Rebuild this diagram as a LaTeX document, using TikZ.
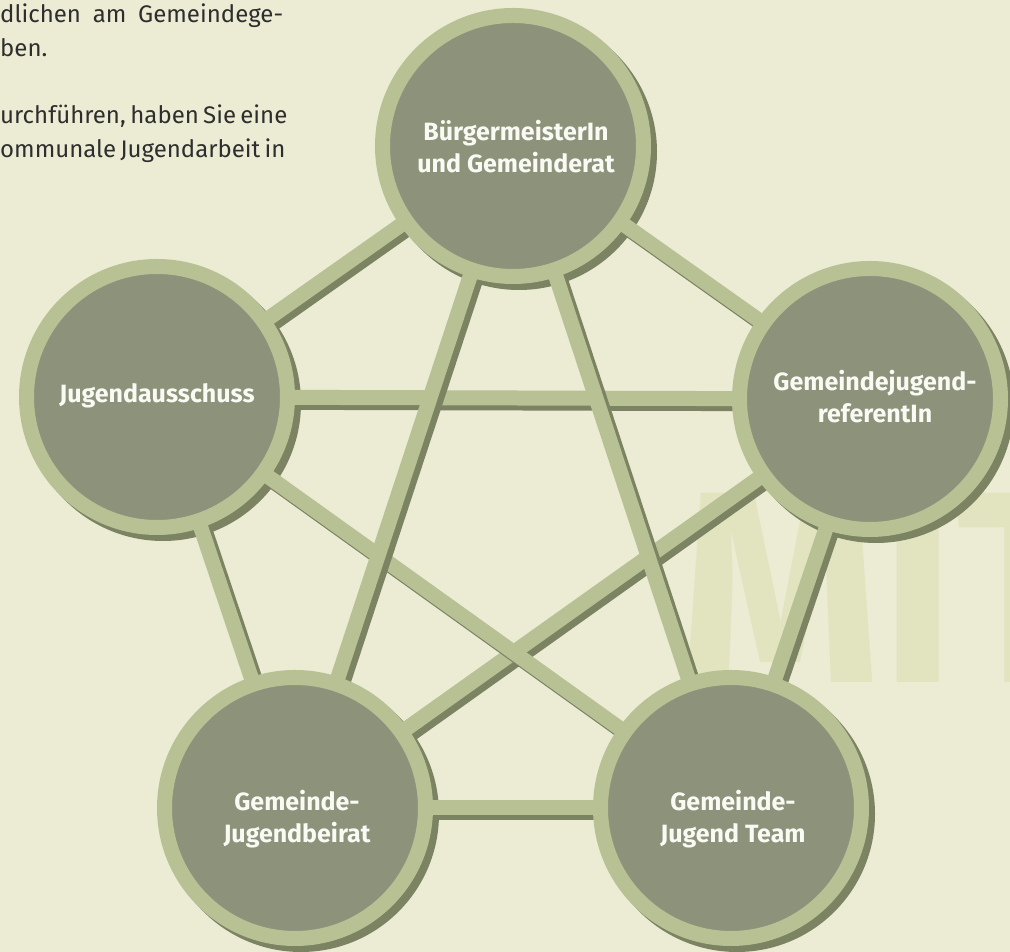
\documentclass[tikz,border=0pt]{standalone}
\usepackage{fontspec}
\setmainfont{Fira Sans}
\definecolor{bgc}{RGB}{236,235,212}
\definecolor{wmc}{RGB}{226,228,192}
\definecolor{ringc}{RGB}{183,193,148}
\definecolor{fillc}{RGB}{141,146,122}
\definecolor{shadowc}{RGB}{123,131,98}
\definecolor{labelc}{RGB}{250,250,244}
\definecolor{bodyc}{RGB}{46,46,46}
\pgfdeclarelayer{back}
\pgfdeclarelayer{bg}
\pgfsetlayers{back,bg,main}
\newcommand\conn[2]{%
  \draw[lshadow] ([shift={(5pt,-5pt)}]#1.center) -- ([shift={(5pt,-5pt)}]#2.center);
  \draw[llight] (#1.center) -- (#2.center);}
\tikzset{
  circ/.style={circle, fill=fillc, draw=ringc, line width=15pt, minimum size=261pt, inner sep=0pt},
  lbl/.style={align=center, inner sep=0pt, text=labelc, font=\bfseries\fontsize{25}{32}\selectfont},
  body/.style={inner sep=0pt, anchor=base west, text=bodyc, font=\fontsize{24}{34}\selectfont},
  wm/.style={inner sep=0pt, anchor=base west, text=wmc, font=\bfseries\fontsize{273}{273}\selectfont},
  llight/.style={draw=ringc, line width=15pt},
  lshadow/.style={draw=shadowc, line width=15pt},
}
\begin{document}
\begin{tikzpicture}[x=1pt,y=1pt]
\useasboundingbox (0,0) rectangle (1010,952);
\begin{pgfonlayer}{back}
  \fill[bgc] (0,0) rectangle (1010,952);
  \node[wm] (wmark) at (679,269) {\scalebox{0.94}[1]{MIT}};
\end{pgfonlayer}
% body text
\node[body] (t1) at (0,929) {\makebox[283pt][s]{dlichen am Gemeindege-}};
\node[body] (t2) at (0,895) {ben.};
\node[body] (t3) at (0,828) {\makebox[283pt][s]{urchführen, haben Sie eine}};
\node[body] (t4) at (0,794) {\makebox[283pt][s]{ommunale Jugendarbeit in}};
% circles
\node[circ] (T)  at (513,806) {};
\node[circ] (L)  at (157,555) {};
\node[circ] (R)  at (870,553) {};
\node[circ] (BL) at (295,144) {};
\node[circ] (BR) at (731,144) {};
% labels
\node[lbl] (Tl)  at (516,805) {BürgermeisterIn\\und Gemeinderat};
\node[lbl] (Ll)  at (157,556) {Jugendausschuss};
\node[lbl] (Rl)  at (875,555) {Gemeindejugend-\\referentIn};
\node[lbl] (BLl) at (297,133) {Gemeinde-\\Jugendbeirat};
\node[lbl] (BRl) at (733,133) {Gemeinde-\\Jugend Team};
\begin{pgfonlayer}{bg}
  \foreach \n in {T,L,R,BL,BR}
    \fill[shadowc] ([shift={(6pt,-6pt)}]\n.center) circle (138pt);
  \conn{L}{R}
  \conn{T}{L}
  \conn{T}{R}
  \conn{L}{BL}
  \conn{R}{BR}
  \conn{BL}{BR}
  \conn{R}{BL}
  \conn{L}{BR}
  \conn{T}{BL}
  \conn{T}{BR}
\end{pgfonlayer}
\end{tikzpicture}
\end{document}
